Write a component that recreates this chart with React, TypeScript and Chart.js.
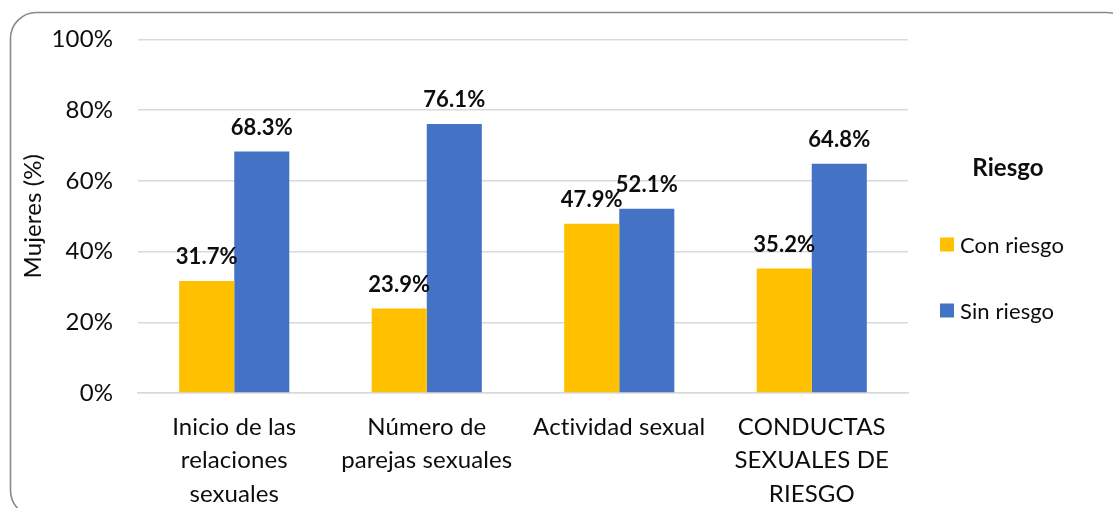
import React, { useEffect, useRef } from "react";
import { Chart, registerables } from "chart.js";

Chart.register(...registerables);

const categories: string[][] = [
  ["Inicio de las", "relaciones", "sexuales"],
  ["Número de", "parejas sexuales"],
  ["Actividad sexual"],
  ["CONDUCTAS", "SEXUALES DE", "RIESGO"],
];
const seriesNames = ["Con riesgo", "Sin riesgo"];
const conRiesgo = [31.7, 23.9, 47.9, 35.2];
const sinRiesgo = [68.3, 76.1, 52.1, 64.8];
const yTicks = [0, 20, 40, 60, 80, 100];
const legendTitle = "Riesgo";
const yAxisTitle = "Mujeres (%)";

const FONT = "Lato";
const TEXT = "#0d0d0d";
const GRID = "#d9d9d9";
const COLORS = ["#FFC000", "#4472C4"];

const W = 1113;
const H = 508;

const borderPlugin = {
  id: "roundBorder",
  beforeDraw(chart: any) {
    const ctx = chart.ctx;
    // disable ligatures (e.g. "ti") for all text drawn on this context
    try {
      ctx.letterSpacing = "0.1px";
    } catch (e) {}
    ctx.save();
    ctx.fillStyle = "#ffffff";
    ctx.fillRect(0, 0, chart.width, chart.height);
    ctx.strokeStyle = "#8a8a8a";
    ctx.lineWidth = 1.6;
    ctx.beginPath();
    ctx.roundRect(10.5, 12.5, 1122, 504, 26);
    ctx.stroke();
    ctx.restore();
  },
};

const dataLabelPlugin = {
  id: "dataLabels",
  afterDatasetsDraw(chart: any) {
    const ctx = chart.ctx;
    ctx.save();
    ctx.font = `bold 22px ${FONT}`;
    ctx.fillStyle = TEXT;
    ctx.textAlign = "center";
    ctx.textBaseline = "middle";
    chart.data.datasets.forEach((ds: any, i: number) => {
      const meta = chart.getDatasetMeta(i);
      meta.data.forEach((bar: any, j: number) => {
        const v = ds.data[j] as number;
        ctx.fillText(v.toFixed(1) + "%", bar.x, bar.y - 24);
      });
    });
    ctx.restore();
  },
};

const legendPlugin = {
  id: "customLegend",
  afterDraw(chart: any) {
    const ctx = chart.ctx;
    const area = chart.chartArea;
    const left = area.right + 32;
    ctx.save();
    ctx.fillStyle = TEXT;
    ctx.font = `bold 24px ${FONT}`;
    ctx.textAlign = "center";
    ctx.textBaseline = "middle";
    ctx.fillText(legendTitle, left + 68, 168);
    ctx.font = `22px ${FONT}`;
    ctx.textAlign = "left";
    chart.data.datasets.forEach((ds: any, i: number) => {
      const cy = 244.5 + i * 66;
      ctx.fillStyle = ds.backgroundColor;
      ctx.fillRect(left, cy - 7, 14, 14);
      ctx.fillStyle = TEXT;
      ctx.fillText(ds.label, left + 20, cy + 1);
    });
    ctx.restore();
  },
};

export default function App() {
  const ref = useRef<HTMLCanvasElement | null>(null);

  useEffect(() => {
    document.body.style.margin = "0";
    if (!ref.current) return;
    const chart = new Chart(ref.current, {
      type: "bar",
      data: {
        labels: categories,
        datasets: [
          { label: seriesNames[0], data: conRiesgo, backgroundColor: COLORS[0] },
          { label: seriesNames[1], data: sinRiesgo, backgroundColor: COLORS[1] },
        ],
      },
      options: {
        responsive: false,
        animation: false,
        devicePixelRatio: 1,
        layout: { padding: { left: 12, top: 38, right: 205, bottom: 0 } },
        datasets: {
          bar: { barPercentage: 1, categoryPercentage: 0.572 },
        },
        plugins: {
          legend: { display: false },
          tooltip: { enabled: false },
        },
        scales: {
          x: {
            grid: { display: false, drawTicks: false },
            border: { display: true, color: GRID, width: 1.5 },
            ticks: {
              color: TEXT,
              padding: 18,
              maxRotation: 0,
              autoSkip: false,
              font: { family: FONT, size: 24, lineHeight: 1.38 },
            },
            afterFit: (s: any) => {
              s.height = H - 393;
            },
          },
          y: {
            min: 0,
            max: 100,
            afterBuildTicks: (s: any) => {
              s.ticks = yTicks.map((v) => ({ value: v }));
            },
            grid: { color: GRID, lineWidth: 1.5, drawTicks: false },
            border: { display: false },
            ticks: {
              color: TEXT,
              padding: 25,
              font: { family: FONT, size: 24 },
              callback: (v: any) => v + "%",
            },
            title: {
              display: true,
              text: yAxisTitle,
              color: TEXT,
              padding: { top: 7, bottom: 0 },
              font: { family: FONT, size: 24 },
            },
            afterFit: (s: any) => {
              s.width = 138 - 12;
            },
          },
        },
      },
      plugins: [borderPlugin, dataLabelPlugin, legendPlugin],
    });
    return () => chart.destroy();
  }, []);

  return (
    <canvas
      ref={ref}
      width={W}
      height={H}
      style={{ display: "block", width: W, height: H }}
    />
  );
}
